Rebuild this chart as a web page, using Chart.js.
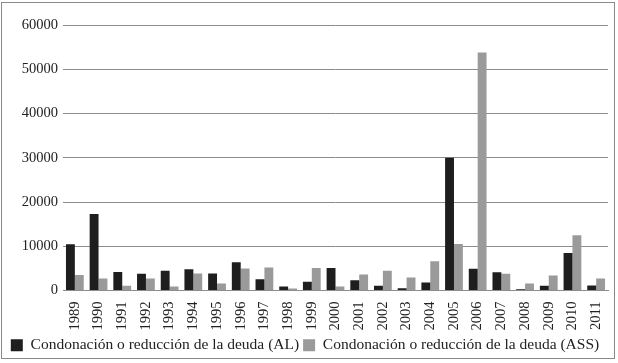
<!DOCTYPE html>
<html>
<head>
<meta charset="utf-8">
<script src="https://cdn.jsdelivr.net/npm/chart.js@4/dist/chart.umd.min.js"></script>
<style>
  html, body { margin: 0; padding: 0; background: #fff; }
  #frame { position: absolute; left: 1px; top: 2px; width: 614px; height: 357px; border: 1px solid #8a8a8a; box-sizing: border-box; }
  #wrap { position: absolute; left: 0; top: 0; width: 618px; height: 363px; }
</style>
</head>
<body>
<div id="frame"></div>
<div id="wrap"><canvas id="chart0" width="618" height="363"></canvas></div>
<script>
// years on the x axis
var years = ['1989','1990','1991','1992','1993','1994','1995','1996','1997','1998','1999','2000',
             '2001','2002','2003','2004','2005','2006','2007','2008','2009','2010','2011'];

// Condonación o reducción de la deuda (AL)
var deudaAL = [10450, 17300, 4200, 3760, 4440, 4800, 3830, 6390, 2560, 900, 1950, 5100,
               2330, 1050, 530, 1800, 30000, 4890, 4140, 300, 1050, 8500, 1130];

// Condonación o reducción de la deuda (ASS)
var deudaASS = [3530, 2700, 1050, 2700, 900, 3830, 1580, 4960, 5190, 450, 5110, 900,
                3610, 4440, 2930, 6620, 10530, 53800, 3760, 1580, 3380, 12480, 2700];

var yTicks = [0, 10000, 20000, 30000, 40000, 50000, 60000];

var serif = "'Liberation Serif', 'DejaVu Serif', serif";
Chart.defaults.font.family = serif;
Chart.defaults.font.size = 14;
Chart.defaults.color = '#222';

new Chart('chart0', {
  type: 'bar',
  data: {
    labels: years,
    datasets: [
      {
        label: 'Condonación o reducción de la deuda (AL)',
        data: deudaAL,
        backgroundColor: '#1e1e1e',
        categoryPercentage: 0.75,
        barPercentage: 1.0
      },
      {
        label: 'Condonación o reducción de la deuda (ASS)',
        data: deudaASS,
        backgroundColor: '#9a9a9a',
        categoryPercentage: 0.75,
        barPercentage: 1.0
      }
    ]
  },
  options: {
    responsive: false,
    animation: false,
    layout: { padding: { left: 2, right: 10, top: 25, bottom: 0 } },
    plugins: {
      tooltip: { enabled: false },
      legend: {
        position: 'bottom',
        labels: {
          boxWidth: 12,
          boxHeight: 12,
          padding: 4,
          font: { size: 15.5, family: serif },
          color: '#222'
        }
      }
    },
    scales: {
      x: {
        grid: { display: false },
        border: { display: true, color: '#8c8c8c' },
        ticks: {
          minRotation: 90,
          maxRotation: 90,
          padding: 3,
          font: { size: 14.5, family: serif },
          color: '#222'
        }
      },
      y: {
        min: 0,
        max: 60000,
        afterBuildTicks: function(axis) {
          axis.ticks = yTicks.map(function(v) { return { value: v }; });
        },
        afterFit: function(axis) { axis.width = 61; },
        grid: { color: '#8c8c8c', drawTicks: false },
        border: { display: false },
        ticks: {
          padding: 5,
          font: { size: 14.5, family: serif },
          color: '#222',
          callback: function(v) { return String(v); }
        }
      }
    }
  }
});
</script>
</body>
</html>
